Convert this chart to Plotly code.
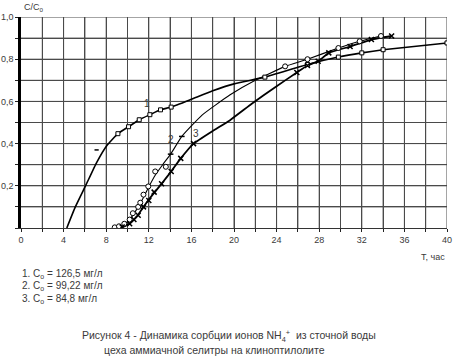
import plotly.graph_objects as go

# ---- data ----
c1_line_x = [4.3, 5.1, 6.1, 7.1, 8.05, 9.1, 10.1, 11.1, 12.1, 13.1, 14.1, 16, 18, 20, 22.9, 26.9, 29.8, 32, 34, 40]
c1_line_y = [0.0, 0.10, 0.204, 0.31, 0.39, 0.447, 0.48, 0.513, 0.537, 0.56, 0.573, 0.61, 0.65, 0.683, 0.715, 0.775, 0.81, 0.83, 0.845, 0.877]
c1_mark_x = [9.1, 10.1, 11.1, 12.1, 13.1, 14.1, 22.9, 26.9, 29.8, 32, 34, 40]
c1_mark_y = [0.447, 0.48, 0.513, 0.537, 0.56, 0.573, 0.715, 0.775, 0.81, 0.83, 0.845, 0.877]
c1_outlier_x = [7.1]
c1_outlier_y = [0.37]

c2_line_x = [8.8, 9.5, 10.0, 10.5, 11.0, 11.5, 12.0, 12.6, 13.3, 14.05, 15.1, 17, 19.6, 22, 24.8, 26.9, 29.8, 31.8, 33.8]
c2_line_y = [0.0, 0.01, 0.03, 0.06, 0.1, 0.145, 0.195, 0.25, 0.3, 0.35, 0.434, 0.535, 0.63, 0.70, 0.766, 0.80, 0.853, 0.885, 0.91]
c2_mark_x = [8.8, 9.2, 9.7, 10.2, 10.5, 11.0, 11.2, 11.5, 11.95, 12.6, 13.6, 24.8, 26.9, 29.8, 31.8, 33.8]
c2_mark_y = [0.003, 0.008, 0.02, 0.04, 0.07, 0.1, 0.12, 0.158, 0.197, 0.268, 0.29, 0.766, 0.80, 0.853, 0.885, 0.91]
c2_tick_x = [14.05, 15.1]
c2_tick_y = [0.35, 0.434]

c3_line_x = [9.3, 9.8, 10.3, 10.8, 11.3, 12.0, 13.2, 14.1, 15.0, 16.2, 18, 19.6, 21.7, 23.8, 25.9, 26.9, 27.9, 28.9, 30.9, 32.9, 34.8]
c3_line_y = [0.0, 0.01, 0.025, 0.05, 0.085, 0.135, 0.21, 0.268, 0.33, 0.40, 0.46, 0.51, 0.59, 0.665, 0.737, 0.77, 0.79, 0.83, 0.86, 0.893, 0.91]
c3_mark_x = [9.5, 10.2, 10.6, 11.0, 11.5, 12.0, 12.5, 13.2, 14.1, 15.0, 16.2, 25.9, 26.9, 27.9, 28.9, 30.9, 32.9, 34.8]
c3_mark_y = [0.005, 0.02, 0.04, 0.06, 0.1, 0.13, 0.17, 0.21, 0.268, 0.33, 0.40, 0.737, 0.77, 0.79, 0.83, 0.86, 0.893, 0.91]

x_tickvals = [0, 2, 4, 6, 8, 10, 12, 14, 16, 18, 20, 22, 24, 26, 28, 30, 32, 34, 36, 38, 40]
x_ticktext = ["0", "", "4", "", "8", "", "12", "", "16", "", "20", "", "24", "", "28", "", "32", "", "36", "", "40"]
y_tickvals = [0.0, 0.1, 0.2, 0.3, 0.4, 0.5, 0.6, 0.7, 0.8, 0.9, 1.0]
y_ticktext = ["", "", "0,2", "", "0,4", "", "0,6", "", "0,8", "", "1,0"]

legend_lines = ["1. C<sub>o</sub> = 126,5 мг/л", "2. C<sub>o</sub> = 99,22 мг/л", "3. C<sub>o</sub> = 84,8 мг/л"]
caption1 = "Рисунок 4 - Динамика сорбции ионов NH<sub>4</sub><sup>+</sup>  из сточной воды"
caption2 = "цеха аммиачной селитры на клиноптилолите"

# ---- figure ----
W, H = 454, 364
L, R, T, B = 21, 447, 17, 228.3
def px(x): return (x - L) / (R - L)
def py(y): return (B - y) / (B - T)

FONT = "Liberation Sans, Arial, sans-serif"
TXT = "#3a3a3a"
GRID = "#4a4a4a"

fig = go.Figure()
# grid lines (incl. top / right frame), one trace per line, from the tick arrays
for xv in x_tickvals[1:]:
    fig.add_trace(go.Scatter(x=[xv, xv], y=[y_tickvals[0], y_tickvals[-1]], mode="lines",
                             line=dict(color=GRID, width=1), hoverinfo="skip"))
for yv in y_tickvals[1:]:
    fig.add_trace(go.Scatter(x=[x_tickvals[0], x_tickvals[-1]], y=[yv, yv], mode="lines",
                             line=dict(color=GRID, width=1), hoverinfo="skip"))

fig.add_trace(go.Scatter(x=c1_line_x, y=c1_line_y, mode="lines",
                         line=dict(color="black", width=1.6, shape="spline", smoothing=0.4)))
fig.add_trace(go.Scatter(x=c2_line_x, y=c2_line_y, mode="lines",
                         line=dict(color="black", width=1.1, shape="spline", smoothing=0.4)))
fig.add_trace(go.Scatter(x=c3_line_x, y=c3_line_y, mode="lines",
                         line=dict(color="black", width=1.8, shape="spline", smoothing=0.4)))
fig.add_trace(go.Scatter(x=c1_mark_x, y=c1_mark_y, mode="markers",
                         marker=dict(symbol="square", size=4, color="white", line=dict(color="black", width=1))))
fig.add_trace(go.Scatter(x=c1_outlier_x, y=c1_outlier_y, mode="markers",
                         marker=dict(symbol="line-ew", size=3, line=dict(color="black", width=1.5))))
fig.add_trace(go.Scatter(x=c2_mark_x, y=c2_mark_y, mode="markers",
                         marker=dict(symbol="circle", size=5, color="white", line=dict(color="black", width=1))))
fig.add_trace(go.Scatter(x=c2_tick_x, y=c2_tick_y, mode="markers",
                         marker=dict(symbol="line-ew", size=4, line=dict(color="black", width=1.5))))
fig.add_trace(go.Scatter(x=c3_mark_x, y=c3_mark_y, mode="markers",
                         marker=dict(symbol="x-thin", size=5, line=dict(color="black", width=1.5))))

def note(x, y, text, size, xanchor="center", xref="paper", yref="paper"):
    return dict(x=x, y=y, xref=xref, yref=yref, text=text, showarrow=False,
                xanchor=xanchor, yanchor="middle", font=dict(size=size, color=TXT))

ann = []
ann.append(note(11.8, 0.59, "1", 10, xref="x", yref="y"))
ann.append(note(14.1, 0.42, "2", 10, xref="x", yref="y"))
ann.append(note(16.4, 0.45, "3", 10, xref="x", yref="y"))
ann.append(note(px(22), py(7), "C/C<sub>o</sub>", 9, xanchor="left"))
ann.append(note(px(447), py(257), "T, час", 9, xanchor="right"))
for i, t in enumerate(legend_lines):
    ann.append(note(px(20), py(274 + 12.7 * i), t, 10, xanchor="left"))
ann.append(note(px(229), py(336), caption1, 10.5))
ann.append(note(px(214), py(350), caption2, 10.5))

fig.update_layout(
    width=W, height=H,
    margin=dict(l=L, r=W - R, t=T, b=H - B, pad=0, autoexpand=False),
    paper_bgcolor="white", plot_bgcolor="white",
    showlegend=False,
    font=dict(family=FONT, size=9, color=TXT),
    annotations=ann,
    xaxis=dict(range=[0, 40], tickmode="array", tickvals=x_tickvals, ticktext=x_ticktext,
               showgrid=True, gridcolor=GRID, gridwidth=1, automargin=False,
               ticks="outside", ticklen=3, tickcolor="#222", tickfont=dict(size=9, color=TXT),
               showline=True, linecolor="#333", linewidth=1, zeroline=False, fixedrange=True),
    yaxis=dict(range=[0, 1.0], tickmode="array", tickvals=y_tickvals, ticktext=y_ticktext,
               showgrid=True, gridcolor=GRID, gridwidth=1, automargin=False,
               ticks="outside", ticklen=3, tickcolor="#222", tickfont=dict(size=9, color=TXT),
               showline=True, linecolor="black", linewidth=2.5, zeroline=False, fixedrange=True),
)

fig.write_html("out.html", config={"displayModeBar": False},
               post_script="document.body.style.margin='0';document.body.style.padding='0';")
